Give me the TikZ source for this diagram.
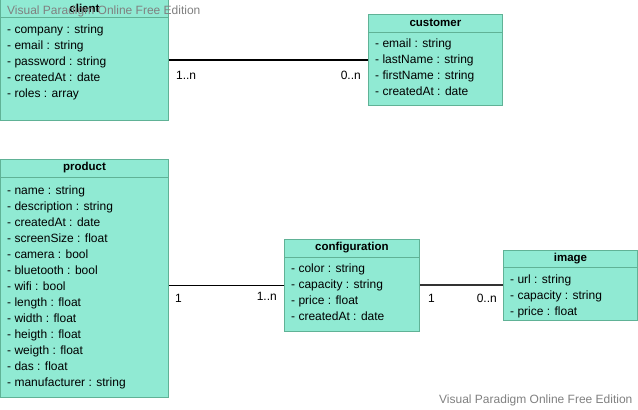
\documentclass[tikz,border=0pt]{standalone}
\usepackage{fontspec}
\setmainfont{Liberation Sans}
\definecolor{clsfill}{RGB}{144,234,211}
\definecolor{clsdraw}{RGB}{96,178,150}
\definecolor{wmark}{RGB}{128,128,128}
\definecolor{darkline}{RGB}{51,51,51}
\tikzset{
  cls/.style={draw=clsdraw, fill=clsfill, line width=0.9pt, anchor=north west, inner sep=0pt},
  clstitle/.style={font=\fontsize{11.5}{14}\selectfont\bfseries, inner sep=0pt},
  attr/.style={font=\fontsize{12}{16}\selectfont, anchor=base west, inner sep=0pt},
  mult/.style={font=\fontsize{12}{16}\selectfont, inner sep=0pt},
  assoc/.style={line width=1.2pt},
  wm/.style={font=\fontsize{12}{16}\selectfont, text=wmark, inner sep=0pt, anchor=west}
}
\begin{document}
\begin{tikzpicture}[x=1pt, y=-1pt]
  \useasboundingbox (0,0) rectangle (638,410);

  % client
  \node[cls, minimum width=168pt, minimum height=121pt] (client) at (0,-1) {};
  \node[clstitle] (client-t) at ([yshift=-9pt]client.north) {client};
  \draw[clsdraw, line width=0.9pt] ([yshift=-18pt]client.north west) -- ([yshift=-18pt]client.north east);
  \foreach \a [count=\i] in {company : string, email : string, password : string, createdAt : date, roles : array}
    \node[attr] (client-\i) at ([xshift=7pt, yshift={-18.5-16*\i}]client.north west) {- \a};

  % customer
  \node[cls, minimum width=134pt, minimum height=91pt] (customer) at (368,14) {};
  \node[clstitle] (customer-t) at ([yshift=-9pt]customer.north) {customer};
  \draw[clsdraw, line width=0.9pt] ([yshift=-18pt]customer.north west) -- ([yshift=-18pt]customer.north east);
  \foreach \a [count=\i] in {email : string, lastName : string, firstName : string, createdAt : date}
    \node[attr] (customer-\i) at ([xshift=7pt, yshift={-17.5-16*\i}]customer.north west) {- \a};

  % product
  \node[cls, minimum width=168pt, minimum height=238pt] (product) at (0,159) {};
  \node[clstitle] (product-t) at ([yshift=-9pt]product.north) {product};
  \draw[clsdraw, line width=0.9pt] ([yshift=-18pt]product.north west) -- ([yshift=-18pt]product.north east);
  \foreach \a [count=\i] in {name : string, description : string, createdAt : date, screenSize : float,
      camera : bool, bluetooth : bool, wifi : bool, length : float, width : float, heigth : float,
      weigth : float, das : float, manufacturer : string}
    \node[attr] (product-\i) at ([xshift=7pt, yshift={-19-16*\i}]product.north west) {- \a};

  % configuration
  \node[cls, minimum width=135pt, minimum height=92pt] (config) at (284,239) {};
  \node[clstitle] (config-t) at ([yshift=-9pt]config.north) {configuration};
  \draw[clsdraw, line width=0.9pt] ([yshift=-18pt]config.north west) -- ([yshift=-18pt]config.north east);
  \foreach \a [count=\i] in {color : string, capacity : string, price : float, createdAt : date}
    \node[attr] (config-\i) at ([xshift=7pt, yshift={-17.5-16*\i}]config.north west) {- \a};

  % image
  \node[cls, minimum width=134pt, minimum height=70pt] (image) at (503,250) {};
  \node[clstitle] (image-t) at ([yshift=-8.5pt]image.north) {image};
  \draw[clsdraw, line width=0.9pt] ([yshift=-17pt]image.north west) -- ([yshift=-17pt]image.north east);
  \foreach \a [count=\i] in {url : string, capacity : string, price : float}
    \node[attr] (image-\i) at ([xshift=7pt, yshift={-17.5-16*\i}]image.north west) {- \a};

  % associations
  \draw[assoc] (client.east) -- (customer.west);
  \node[mult, anchor=west] (m-client) at ([xshift=7pt, yshift=-15pt]client.east) {1..n};
  \node[mult, anchor=east] (m-customer) at ([xshift=-7pt, yshift=-15pt]customer.west) {0..n};

  \draw[assoc] (config.west) -- (config.west -| product.east);
  \node[mult, anchor=west] (m-product) at ([xshift=6pt, yshift=-13pt]config.west -| product.east) {1};
  \node[mult, anchor=east] (m-config1) at ([xshift=-7pt, yshift=-11pt]config.west) {1..n};

  \draw[assoc, darkline, line width=2pt] (config.east) -- (image.west);
  \node[mult, anchor=west] (m-config2) at ([xshift=8pt, yshift=-13pt]config.east) {1};
  \node[mult, anchor=east] (m-image) at ([xshift=-6pt, yshift=-13pt]image.west) {0..n};

  % watermarks
  \node[wm] (wm-top) at (7,11) {Visual Paradigm Online Free Edition};
  \node[wm] (wm-bottom) at (439,400) {Visual Paradigm Online Free Edition};
\end{tikzpicture}
\end{document}
